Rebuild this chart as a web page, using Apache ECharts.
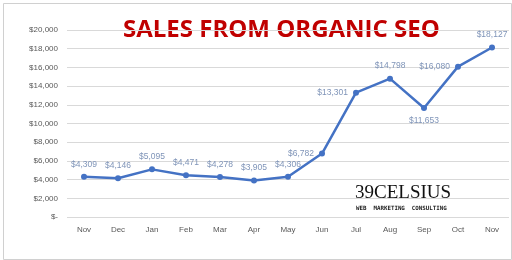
<!DOCTYPE html>
<html>
<head>
<meta charset="utf-8">
<script src="https://cdn.jsdelivr.net/npm/echarts@6/dist/echarts.min.js"></script>
<style>
  html, body { margin: 0; padding: 0; background: #fff; }
  #main { width: 512px; height: 260px; }
</style>
</head>
<body>
<div id="main"></div>
<script>
const months = ['Nov', 'Dec', 'Jan', 'Feb', 'Mar', 'Apr', 'May', 'Jun', 'Jul', 'Aug', 'Sep', 'Oct', 'Nov'];
const sales = [4309, 4146, 5095, 4471, 4278, 3905, 4306, 6782, 13301, 14798, 11653, 16080, 18127];
// where each value label sits relative to its point
const labelSides = ['top', 'top', 'top', 'top', 'top', 'top', 'top', 'left', 'left', 'top', 'bottom', 'left', 'top'];

document.addEventListener('DOMContentLoaded', init);

function init() {
    drawChart();
}

function money(v) {
    if (v === 0) return '$-';
    return '$' + v.toLocaleString('en-US');
}

function drawChart() {
    let myChart = echarts.init(document.getElementById('main'));

    const points = sales.map((v, i) => ({
        value: v,
        label: { position: labelSides[i] }
    }));

    let option = {
        backgroundColor: '#fff',
        animation: false,
        grid: { left: 67, right: 3, top: 30, bottom: 43 },
        xAxis: {
            type: 'category',
            data: months,
            boundaryGap: true,
            axisLine: { show: false },
            axisTick: { show: false },
            axisLabel: { color: '#595959', fontSize: 8, margin: 9, fontFamily: 'Liberation Sans' }
        },
        yAxis: {
            type: 'value',
            min: 0,
            max: 20000,
            interval: 2000,
            axisLabel: {
                color: '#595959', fontSize: 8, margin: 9, fontFamily: 'Liberation Sans',
                formatter: money
            },
            splitLine: { lineStyle: { color: '#d9d9d9', width: 1 } }
        },
        series: [
            {
                type: 'line',
                data: points,
                symbol: 'circle',
                symbolSize: 6,
                lineStyle: { color: '#4472c4', width: 2.5 },
                itemStyle: { color: '#4472c4' },
                label: {
                    show: true,
                    color: '#7f94b8',
                    fontSize: 8.5,
                    fontFamily: 'Liberation Sans',
                    distance: 5,
                    formatter: p => money(p.value)
                }
            }
        ],
        graphic: [
            {
                type: 'rect',
                left: 1, top: 1,
                shape: { width: 508, height: 256 },
                style: { fill: 'none', stroke: '#d0d0d0', lineWidth: 1 },
                silent: true
            },
            {
                type: 'text',
                left: 123, top: 18,
                style: {
                    text: 'SALES FROM ORGANIC SEO',
                    fill: '#c00000',
                    font: 'bold 24px "Open Sans"'
                }
            },
            {
                type: 'text',
                left: 355, top: 184,
                style: {
                    text: '39CELSIUS',
                    fill: '#111',
                    font: '19px "Liberation Serif"'
                }
            },
            {
                type: 'text',
                left: 356, top: 205,
                style: {
                    text: 'WEB  MARKETING  CONSULTING',
                    fill: '#222',
                    font: 'bold 5.8px "DejaVu Sans Mono"'
                }
            }
        ]
    };

    myChart.setOption(option);
}
</script>
</body>
</html>
